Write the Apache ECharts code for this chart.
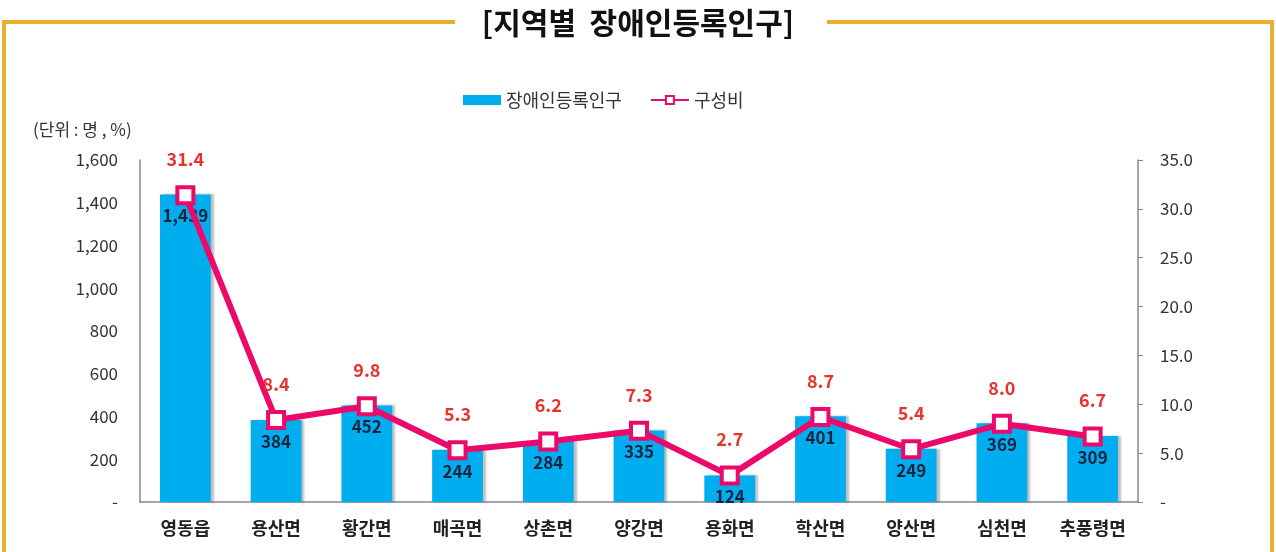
<!DOCTYPE html>
<html>
<head>
<meta charset="utf-8">
<script src="https://cdn.jsdelivr.net/npm/echarts@6/dist/echarts.min.js"></script>
<style>
  html, body { margin: 0; padding: 0; background: #fff; }
  #chart { width: 1276px; height: 552px; }
</style>
</head>
<body>
<div id="chart"></div>
<script>
var categories = ['영동읍', '용산면', '황간면', '매곡면', '상촌면', '양강면', '용화면', '학산면', '양산면', '심천면', '추풍령면'];
var population = [1439, 384, 452, 244, 284, 335, 124, 401, 249, 369, 309];
var ratio = [31.4, 8.4, 9.8, 5.3, 6.2, 7.3, 2.7, 8.7, 5.4, 8.0, 6.7];

var font = '"Noto Sans CJK KR", "Noto Sans", sans-serif';
var frameColor = '#e8b02e';

var chart = echarts.init(document.getElementById('chart'));

var option = {
    backgroundColor: '#fff',
    textStyle: { fontFamily: font },
    title: {
        text: '[지역별  장애인등록인구]',
        left: 'center',
        top: 3,
        textStyle: { fontSize: 30, fontWeight: 'bold', color: '#111', fontFamily: font }
    },
    graphic: [
        {
            type: 'polyline',
            shape: { points: [[455, 22], [4, 22], [4, 552]] },
            style: { stroke: frameColor, lineWidth: 4, fill: null }
        },
        {
            type: 'polyline',
            shape: { points: [[827, 22], [1272, 22], [1272, 552]] },
            style: { stroke: frameColor, lineWidth: 4, fill: null }
        },
        {
            type: 'text',
            left: 33,
            top: 121,
            style: { text: '(단위 : 명 , %)', fontSize: 17, fill: '#333', fontFamily: font }
        }
    ],
    legend: {
        top: 86,
        left: 458,
        itemGap: 28,
        itemWidth: 38,
        itemHeight: 10,
        textStyle: { fontSize: 18, color: '#333', fontFamily: font },
        data: [
            { name: '장애인등록인구', icon: 'rect' },
            { name: '구성비' }
        ]
    },
    grid: {
        left: 140,
        right: 138,
        top: 160,
        bottom: 50,
        containLabel: false
    },
    xAxis: {
        type: 'category',
        data: categories,
        axisLine: { lineStyle: { color: '#888', width: 1.5 } },
        axisTick: { show: false },
        axisLabel: { fontSize: 18, fontWeight: 'bold', color: '#222', margin: 17, fontFamily: font }
    },
    yAxis: [
        {
            type: 'value',
            min: 0,
            max: 1600,
            interval: 200,
            splitLine: { show: false },
            axisLine: { show: true, lineStyle: { color: '#888', width: 1.5 } },
            axisTick: { show: false },
            axisLabel: {
                fontSize: 17,
                color: '#333',
                margin: 22,
                fontFamily: font,
                formatter: function (v) {
                    return v === 0 ? '-' : v.toLocaleString('en-US');
                }
            }
        },
        {
            type: 'value',
            min: 0,
            max: 35,
            interval: 5,
            splitLine: { show: false },
            axisLine: { show: true, lineStyle: { color: '#888', width: 1.5 } },
            axisTick: { show: true, length: 5, lineStyle: { color: '#888' } },
            axisLabel: {
                fontSize: 17,
                color: '#333',
                margin: 22,
                fontFamily: font,
                formatter: function (v) {
                    return v === 0 ? '-' : v.toFixed(1);
                }
            }
        }
    ],
    series: [
        {
            name: '장애인등록인구',
            type: 'bar',
            data: population,
            barWidth: '56%',
            itemStyle: {
                color: '#00aeef',
                shadowColor: 'rgba(0,0,0,0.25)',
                shadowOffsetX: 3,
                shadowOffsetY: 0,
                shadowBlur: 2
            },
            label: {
                show: true,
                position: 'insideTop',
                distance: 13,
                fontSize: 17,
                fontWeight: 'bold',
                color: '#15233f',
                fontFamily: font,
                formatter: function (p) {
                    return p.value.toLocaleString('en-US');
                }
            }
        },
        {
            name: '구성비',
            type: 'line',
            yAxisIndex: 1,
            data: ratio,
            symbol: 'rect',
            symbolSize: 16,
            lineStyle: { color: '#eb0a6a', width: 6 },
            itemStyle: { color: '#fff', borderColor: '#eb0a6a', borderWidth: 4 },
            label: {
                show: true,
                position: 'top',
                distance: 17,
                fontSize: 18,
                fontWeight: 'bold',
                color: '#e8322e',
                fontFamily: font,
                formatter: function (p) {
                    return p.value.toFixed(1);
                }
            },
            z: 5
        }
    ]
};

chart.setOption(option);
</script>
</body>
</html>
